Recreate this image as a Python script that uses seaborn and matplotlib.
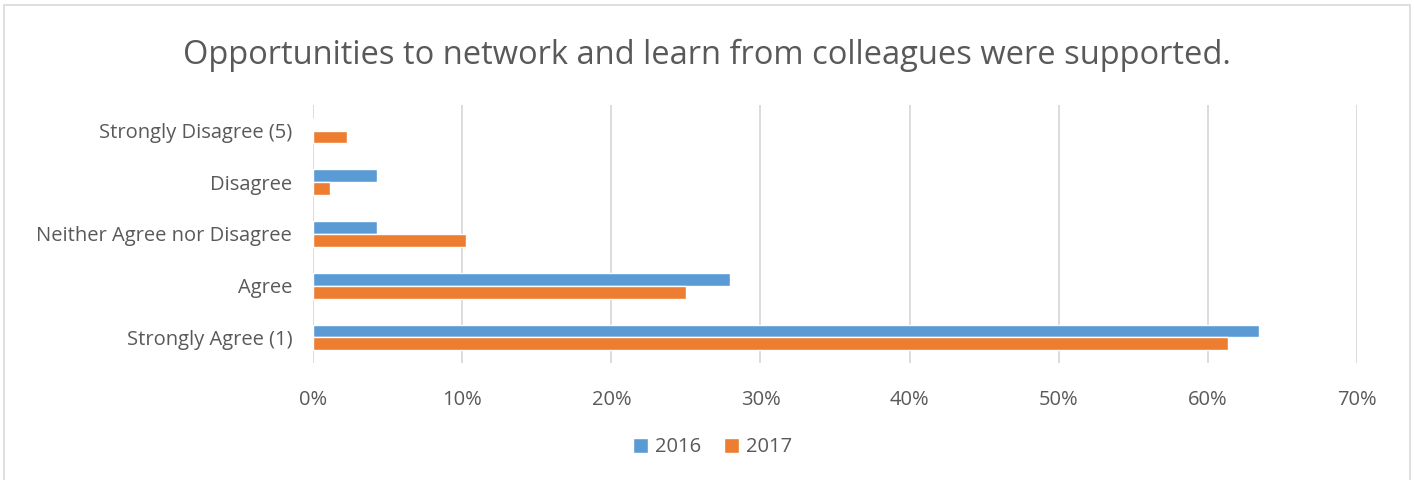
import pandas as pd
import numpy as np
import matplotlib.pyplot as plt
import seaborn as sns
from matplotlib.patches import Rectangle
from matplotlib.ticker import PercentFormatter

# 数据（从图中读取，单位：%）
categories = ['Strongly Disagree (5)', 'Disagree', 'Neither Agree nor Disagree',
              'Agree', 'Strongly Agree (1)']
values_2016 = [0.0, 4.3, 4.3, 27.96, 63.44]
values_2017 = [2.27, 1.14, 10.23, 25.0, 61.36]
years = ['2016', '2017']
x_ticks = [0, 10, 20, 30, 40, 50, 60, 70]

df = pd.DataFrame({
    'category': categories * 2,
    'year': [years[0]] * len(categories) + [years[1]] * len(categories),
    'value': values_2016 + values_2017,
})

sns.set_theme(style='white')
plt.rcParams['font.family'] = ['Open Sans', 'DejaVu Sans']
text_color = '#595959'

fig, ax = plt.subplots(figsize=(14.14, 4.8), dpi=100)
fig.subplots_adjust(left=0.2214, right=0.9597, top=0.782, bottom=0.243)

sns.barplot(data=df, x='value', y='category', hue='year', order=categories,
            hue_order=years, palette=['#5B9BD5', '#ED7D31'], width=0.5,
            saturation=1, ax=ax, legend=True)

ax.set_xlim(0, 70)
ax.set_xticks(x_ticks)
ax.xaxis.set_major_formatter(PercentFormatter(decimals=0))
ax.grid(axis='x', color='#d9d9d9', linewidth=1.3)
ax.set_axisbelow(True)
for s in ax.spines.values():
    s.set_visible(False)
ax.tick_params(axis='both', length=0, labelsize=14.5, colors=text_color)
ax.tick_params(axis='x', pad=19)
ax.tick_params(axis='y', pad=15)
ax.set_xlabel('')
ax.set_ylabel('')

fig.suptitle('Opportunities to network and learn from colleagues were supported.',
             fontsize=23.5, color=text_color, y=0.92)

handles, labels = ax.get_legend_handles_labels()
ax.get_legend().remove()
fig.legend(handles, labels, loc='center', bbox_to_anchor=(0.504, 0.068), ncol=2,
           frameon=False, fontsize=14.5, labelcolor=text_color, handlelength=0.75,
           handleheight=0.75, columnspacing=1.1, handletextpad=0.35)

# 外框
fig.patches.append(Rectangle((0.003, -0.01), 0.994, 1.0, transform=fig.transFigure,
                             fill=False, edgecolor='#d9d9d9', linewidth=1.2))

fig.savefig('out.png', dpi=100)
